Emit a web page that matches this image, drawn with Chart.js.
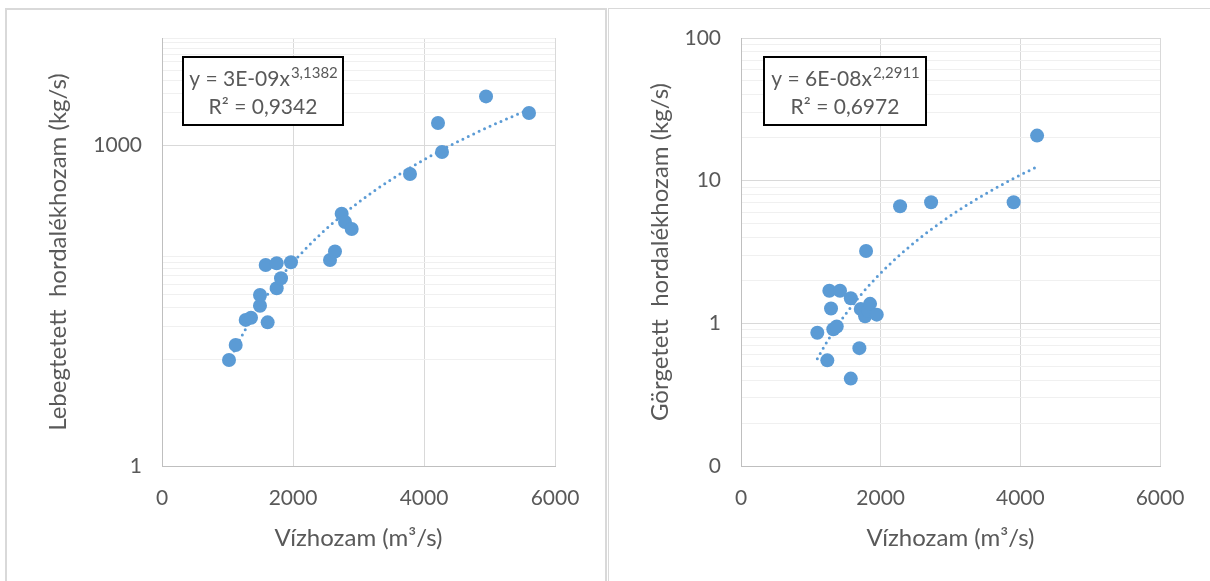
<!DOCTYPE html>
<html>
<head>
<meta charset="utf-8">
<script src="https://cdn.jsdelivr.net/npm/chart.js@4.4.1/dist/chart.umd.min.js"></script>
<style>
  body { margin: 0; background: #fff; width: 1210px; height: 581px; overflow: hidden; position: relative; }
  .panel { position: absolute; border-style: solid; border-color: #d9d9d9; }
  #p1 { left: 5px; top: 8px; width: 598px; height: 580px; border-width: 2px 2px 0 2px; }
  #p2 { left: 608px; top: 8px; width: 610px; height: 580px; border-width: 1px 0 0 1px; }
  canvas { position: absolute; top: 0; }
  #c1 { left: 0; }
  #c2 { left: 605px; }
</style>
</head>
<body>
<div class="panel" id="p1"></div>
<div class="panel" id="p2"></div>
<canvas id="c1" width="605" height="581"></canvas>
<canvas id="c2" width="605" height="581"></canvas>
<script>
// left chart: suspended sediment vs discharge
const flowLeft = [1023, 1125, 1278, 1359, 1613, 1496, 1496, 1751, 1817, 1583, 1751, 1969,
                  2565, 2641, 2743, 2794, 2896, 3786, 4214, 4275, 4947, 5603];
const suspLeft = [9.8, 13.5, 23.2, 24.3, 22.0, 31.5, 39.6, 45.8, 56.8, 75.6, 78.4, 80.1,
                  84.2, 101, 228, 191, 164, 536, 1606, 860, 2847, 1991];

// right chart: bed load vs discharge
const flowRight = [1093, 1236, 1265, 1289, 1322, 1371, 1418, 1572, 1572, 1695, 1715, 1777,
                   1819, 1848, 1944, 1791, 2278, 2722, 3904, 4240];
const bedRight = [0.86, 0.55, 1.69, 1.27, 0.91, 0.95, 1.69, 1.50, 0.41, 0.67, 1.26, 1.12,
                  1.23, 1.37, 1.15, 3.21, 6.62, 7.06, 7.06, 20.7];

const xTicks = [0, 2000, 4000, 6000];
const xLabels = ['0', '2000', '4000', '6000'];
const leftYTicks = [1, 10, 20, 30, 40, 50, 60, 70, 80, 90, 1000, 2000, 3000, 4000, 5000,
                    6000, 7000, 8000, 9000, 10000];
const leftYMajor = [1, 1000];
const leftYLabels = ['1', '1000'];
const rightYTicks = [0.1, 0.2, 0.3, 0.4, 0.5, 0.6, 0.7, 0.8, 0.9, 1, 2, 3, 4, 5, 6, 7, 8, 9,
                     10, 20, 30, 40, 50, 60, 70, 80, 90, 100];
const rightYMajor = [0.1, 1, 10, 100];
const rightYLabels = ['0', '1', '10', '100'];

const leftEq = ['y = 3E-09x', '3,1382', 'R² = 0,9342'];
const rightEq = ['y = 6E-08x', '2,2911', 'R² = 0,6972'];

const blue = '#5b9bd5';
const grey = '#595959';

// power trendline, same least squares on logs as the spreadsheet does
function trendPoints(xs, ys) {
  let n = xs.length, sx = 0, sy = 0, sxx = 0, sxy = 0;
  for (let i = 0; i < n; i++) {
    const lx = Math.log(xs[i]), ly = Math.log(ys[i]);
    sx += lx; sy += ly; sxx += lx * lx; sxy += lx * ly;
  }
  const b = (n * sxy - sx * sy) / (n * sxx - sx * sx);
  const a = Math.exp((sy - b * sx) / n);
  const lo = Math.min(...xs), hi = Math.max(...xs);
  const pts = [];
  for (let i = 0; i <= 100; i++) {
    const x = lo + (hi - lo) * i / 100;
    pts.push({ x: x, y: a * Math.pow(x, b) });
  }
  return pts;
}

const eqBox = {
  id: 'eqBox',
  afterDatasetsDraw(chart, args, opts) {
    const ctx = chart.ctx;
    const x = chart.chartArea.left + opts.dx;
    const y = chart.chartArea.top + opts.dy;
    ctx.save();
    ctx.fillStyle = '#fff';
    ctx.fillRect(x, y, opts.w, opts.h);
    ctx.strokeStyle = '#000';
    ctx.lineWidth = 2;
    ctx.strokeRect(x, y, opts.w, opts.h);
    ctx.fillStyle = grey;
    ctx.textBaseline = 'alphabetic';
    ctx.font = '21px Lato';
    const wMain = ctx.measureText(opts.text[0]).width;
    ctx.font = '15px Lato';
    const wSup = ctx.measureText(opts.text[1]).width;
    const start = x + opts.w / 2 - (wMain + wSup) / 2;
    ctx.font = '21px Lato';
    ctx.fillText(opts.text[0], start, y + 29);
    ctx.font = '15px Lato';
    ctx.fillText(opts.text[1], start + wMain + 1, y + 21);
    ctx.font = '21px Lato';
    ctx.textAlign = 'center';
    ctx.fillText(opts.text[2], x + opts.w / 2, y + 57);
    ctx.restore();
  }
};

function buildChart(id, xs, ys, yMin, yMax, yTicks, yMajor, yLabels, yTitle, yAxisW, yTitlePad, eq, box) {
  const ctx = document.getElementById(id).getContext('2d');
  return new Chart(ctx, {
    type: 'scatter',
    data: {
      datasets: [{
        data: xs.map((x, i) => ({ x: x, y: ys[i] })),
        backgroundColor: blue,
        borderColor: blue,
        pointRadius: 7,
        pointBorderWidth: 0
      }, {
        type: 'line',
        data: trendPoints(xs, ys),
        borderColor: blue,
        borderWidth: 3,
        borderDash: [0, 6],
        borderCapStyle: 'round',
        pointRadius: 0,
        fill: false
      }]
    },
    options: {
      responsive: false,
      animation: false,
      devicePixelRatio: 1,
      layout: { padding: { top: 38, right: 50, left: 0, bottom: 0 } },
      plugins: {
        legend: { display: false },
        tooltip: { enabled: false },
        eqBox: { dx: box[0], dy: box[1], w: box[2], h: box[3], text: eq }
      },
      scales: {
        x: {
          type: 'linear',
          min: 0, max: 6000,
          afterBuildTicks: s => { s.ticks = xTicks.map(v => ({ value: v })); },
          afterFit: s => { s.height = 115; },
          grid: { color: '#d9d9d9', drawTicks: false },
          border: { color: '#bfbfbf', width: 1 },
          ticks: {
            color: grey, font: { family: 'Lato', size: 21 }, padding: 20, maxRotation: 0,
            callback: v => { const k = xTicks.indexOf(v); return k < 0 ? '' : xLabels[k]; }
          },
          title: { display: true, text: 'Vízhozam (m³/s)', color: grey,
                   font: { family: 'Lato', size: 24 }, padding: { top: 0, bottom: 28 } }
        },
        y: {
          type: 'logarithmic',
          min: yMin, max: yMax,
          afterBuildTicks: s => { s.ticks = yTicks.map(v => ({ value: v })); },
          afterFit: s => { s.width = yAxisW; },
          grid: {
            drawTicks: false,
            color: c => yMajor.includes(c.tick.value) ? '#d9d9d9' : '#f0f0f0'
          },
          border: { color: '#bfbfbf', width: 1 },
          ticks: {
            color: grey, font: { family: 'Lato', size: 21 }, padding: 20, autoSkip: false,
            callback: v => { const k = yMajor.indexOf(v); return k < 0 ? '' : yLabels[k]; }
          },
          title: { display: true, text: yTitle, color: grey,
                   font: { family: 'Lato', size: 24 }, padding: { top: yTitlePad, bottom: 0 } }
        }
      }
    },
    plugins: [eqBox]
  });
}

buildChart('c1', flowLeft, suspLeft, 1, 10000, leftYTicks, leftYMajor, leftYLabels,
           'Lebegtetett  hordalékhozam (kg/s)', 162, 44, leftEq, [21, 19, 160, 68]);
buildChart('c2', flowRight, bedRight, 0.1, 100, rightYTicks, rightYMajor, rightYLabels,
           'Görgetett  hordalékhozam (kg/s)', 136, 41, rightEq, [23, 19, 162, 68]);
</script>
</body>
</html>
